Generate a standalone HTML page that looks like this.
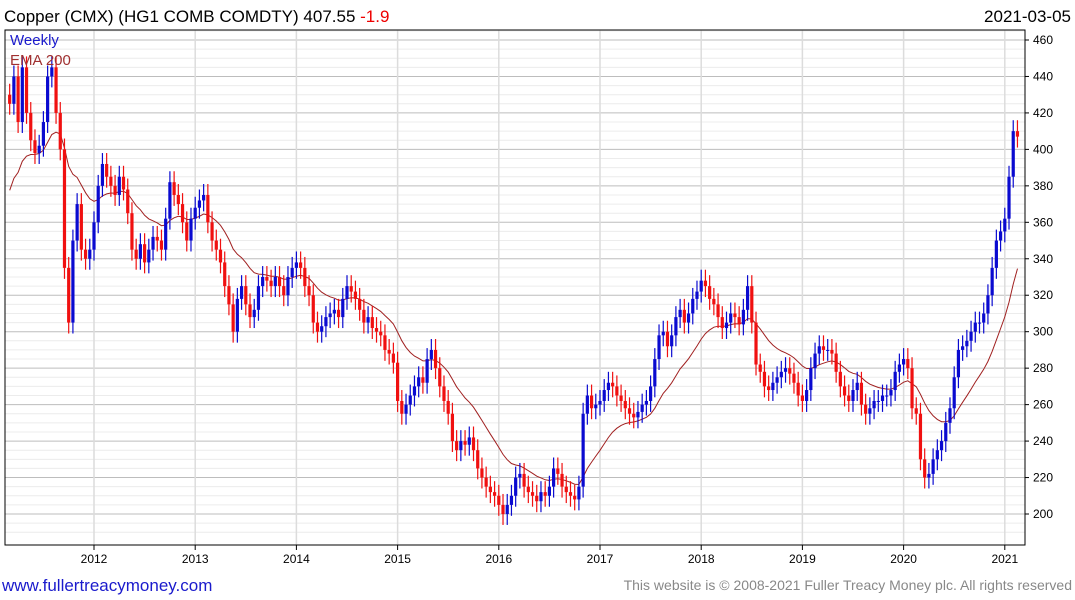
<!DOCTYPE html>
<html><head><meta charset="utf-8"><style>
body{margin:0;background:#fff;width:1075px;height:600px;overflow:hidden;font-family:"Liberation Sans",sans-serif}
svg{position:absolute;left:0;top:0}
</style></head><body>
<svg width="1075" height="600">
<g id="grid"></g>
<g id="ema"></g>
<g id="bars"></g>
<g id="axes"></g>
<text x="4" y="22" font-size="17" fill="#000">Copper (CMX) (HG1 COMB COMDTY) 407.55 <tspan fill="#e00">-1.9</tspan></text>
<text x="1071" y="22" font-size="17" text-anchor="end" fill="#000">2021-03-05</text>
<text x="10" y="45" font-size="15" fill="#1a1acc">Weekly</text>
<text x="10" y="65" font-size="15" fill="#a03030">EMA 200</text>
<text x="2" y="591" font-size="17" fill="#1a1acc">www.fullertreacymoney.com</text>
<text x="1072" y="590" font-size="14" text-anchor="end" fill="#888">This website is © 2008-2021 Fuller Treacy Money plc. All rights reserved</text>
</svg>
<script>
const closes2011=[425,440,415,445,420,405,398,402,415,440,445,420,400,335,305,350,370,345,340,345];
const closes2012=[360,380,392,385,380,375,385,378,365,345,340,348,338,345,352,350,345,362,382,375,370,360,350,362];
const closes2013=[368,372,375,360,350,345,338,325,315,300,318,325,315,308,312,325,330,328,325,330,325,320,330,335];
const closes2014=[338,335,325,320,305,300,303,308,310,312,308,318,325,322,318,312,305,308,302,300,298,290,288,283];
const closes2015=[262,255,260,265,270,275,272,285,290,280,270,262,255,240,235,240,238,242,235,225,220,215,212,210];
const closes2016=[205,200,205,210,220,222,215,212,210,207,212,210,215,225,222,215,212,210,208,215,255,265,258,260];
const closes2017=[262,268,272,270,265,262,258,255,253,256,260,262,270,285,298,300,292,298,308,312,305,310,318,322];
const closes2018=[328,325,318,315,308,302,305,310,308,304,312,325,305,282,278,270,268,272,275,278,280,277,272,265];
const closes2019=[262,268,280,288,292,290,290,288,278,270,265,262,268,272,260,255,258,262,262,265,265,268,278,282];
const closes2020=[285,280,258,255,230,220,222,230,235,240,250,258,275,290,292,295,300,305,305,310,320,335,350,355];
const closes2021=[362,385,410,407];
const yTicks=[200,220,240,260,280,300,320,340,360,380,400,420,440,460];
const xYears=[2012,2013,2014,2015,2016,2017,2018,2019,2020,2021];
const emaSeed=372, emaPeriod=18, wick=6;

const NS="http://www.w3.org/2000/svg";
const L=5,R=1025,T=30,B=545;
const yOf=p=>40+(460-p)*1.8231;
const yearX=y=>94+(y-2012)*101.2;
function el(tag,at,parent){const e=document.createElementNS(NS,tag);for(const k in at)e.setAttribute(k,at[k]);parent.appendChild(e);return e;}
const grid=document.getElementById('grid'),axes=document.getElementById('axes'),bars=document.getElementById('bars'),emaG=document.getElementById('ema');

for(let p=190;p<=465;p+=5){const y=yOf(p);if(y<T||y>B)continue;
 const g=el('line',{x1:L,x2:R,y1:y,y2:y,stroke:p%20===0?'#bdbdbd':'#ececec','stroke-width':1},grid);
 
 }
xYears.forEach(yr=>{const x=yearX(yr);
 const g=el('line',{x1:x,x2:x,y1:T,y2:B,stroke:'#dcdcdc','stroke-width':1.5},grid);
 
 
 const t=el('text',{x:x,y:563,'font-size':12,'text-anchor':'middle',fill:'#000'},axes);t.textContent=yr;
 
 
 el('line',{x1:x,x2:x,y1:B,y2:B+5,stroke:'#000'},axes);});
yTicks.forEach(p=>{const y=yOf(p);
 const t=el('text',{x:1033,y:y+4,'font-size':12,fill:'#000'},axes);t.textContent=p;
 
 
 el('line',{x1:R,x2:R+4,y1:y,y2:y,stroke:'#000'},axes);});
el('rect',{x:L,y:T,width:R-L,height:B-T,fill:'none',stroke:'#000','stroke-width':1},axes);

const years=[closes2012,closes2013,closes2014,closes2015,closes2016,closes2017,closes2018,closes2019,closes2020,closes2021];
const pts=[];
closes2011.forEach((c,i)=>pts.push({t:2012-(closes2011.length-i)/24,c}));
years.forEach((arr,k)=>arr.forEach((c,i)=>pts.push({t:2012+k+i/24,c})));
let ema=emaSeed,prev=pts[0].c+5,d='';const a=2/(emaPeriod+1);
pts.forEach((p,i)=>{const x=yearX(p.t);const o=prev,c=p.c;
 const hi=Math.max(o,c)+wick,lo=Math.min(o,c)-wick,col=c>=o?'#0a0ad0':'#f01010';
 const w=el('line',{x1:x,x2:x,y1:yOf(hi),y2:yOf(lo),stroke:col,'stroke-width':1.2},bars);
 
 
 const b=el('rect',{x:x-1.6,y:yOf(Math.max(o,c)),width:3.2,height:Math.max(1,Math.abs(yOf(o)-yOf(c))),fill:col},bars);
 
 
 ema=ema+a*(c-ema);d+=(i?'L':'M')+x.toFixed(1)+' '+yOf(ema).toFixed(1);prev=c;});
const ep=el('path',{d:d,fill:'none',stroke:'#a02020','stroke-width':1},emaG);


</script>
</body></html>
